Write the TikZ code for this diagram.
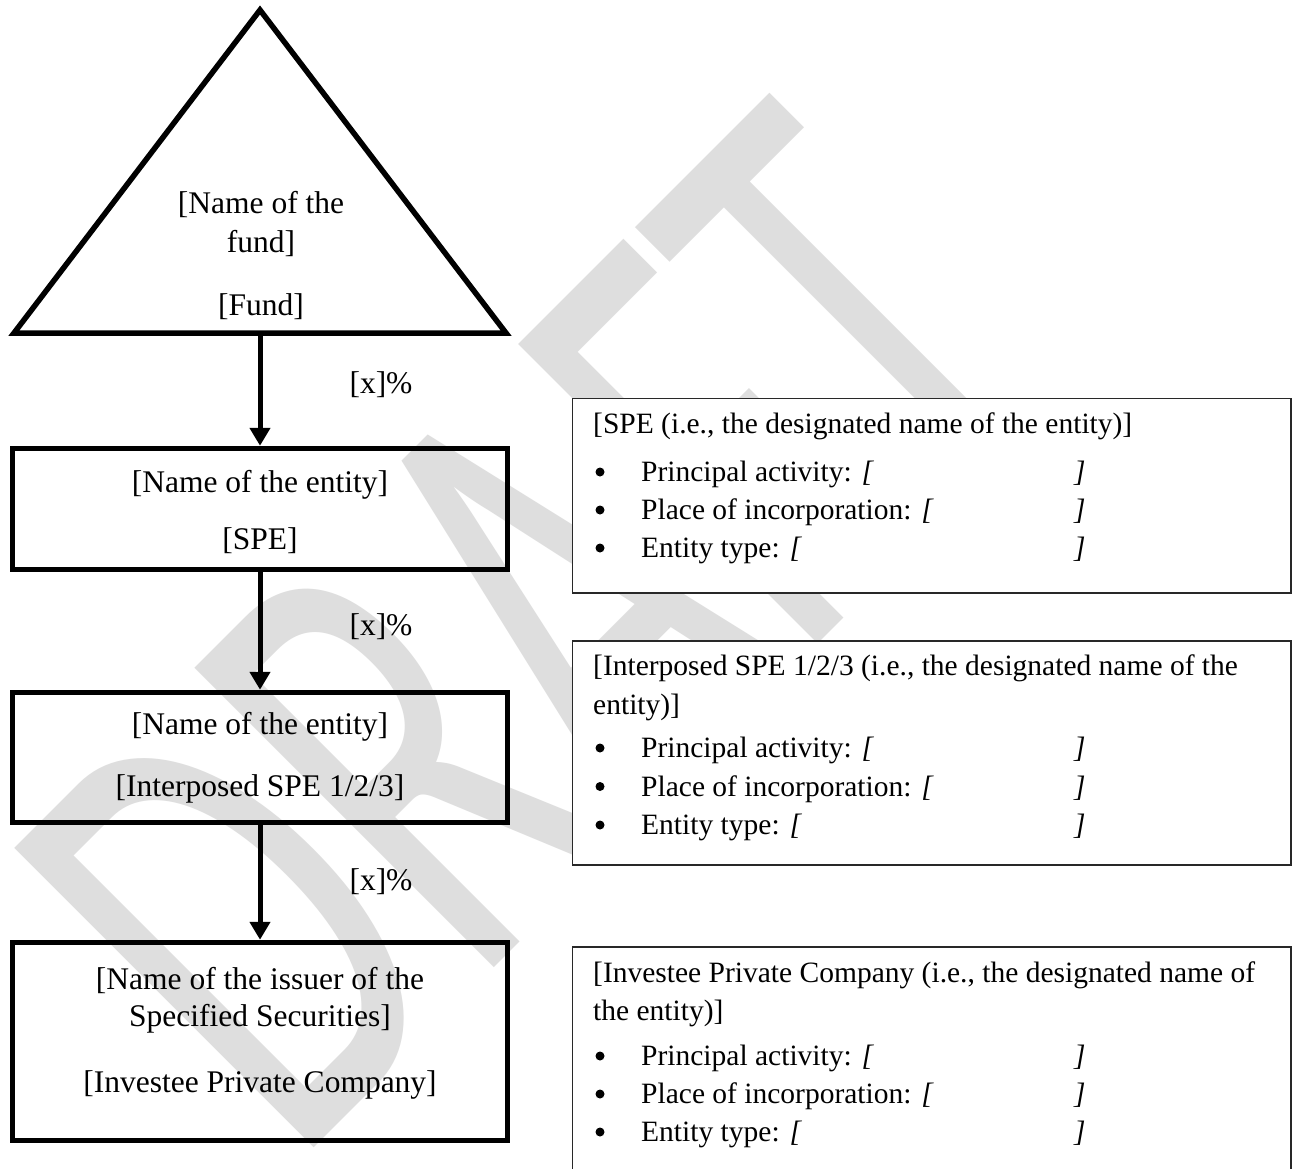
\documentclass[tikz,border=0pt]{standalone}
\usepackage{fontspec}
\setmainfont{Liberation Serif}
\newfontfamily\wmfont{Carlito}
\usetikzlibrary{arrows.meta}
\definecolor{wmgray}{RGB}{222,222,222}
\definecolor{thinline}{RGB}{40,40,40}
\newcommand{\myrow}[3]{%
  \node[bul] (#3b) at (600,#1) {};
  \node[rtext] (#3t) at (641,#1+9.5) {#2 \textit{[}};
  \node[rtext] (#3e) at (1074,#1+9.5) {\textit{]}};
}
\begin{document}
\begin{tikzpicture}[x=1pt,y=-1pt,
  lbox/.style={draw, line width=5.5pt, rectangle, minimum width=495pt, inner sep=0pt},
  ltext/.style={font=\fontsize{31.5}{38}\selectfont, anchor=base, inner sep=0pt},
  rtext/.style={font=\fontsize{29.5}{36}\selectfont, anchor=base west, inner sep=0pt},
  rbox/.style={draw=thinline, fill=white, line width=1.3pt, rectangle, minimum width=718.5pt, inner sep=0pt},
  bul/.style={circle, fill=black, inner sep=0pt, minimum size=9pt},
  arr/.style={line width=5pt, -{Triangle[width=20pt,length=18pt]}},
  wmtext/.style={text=wmgray, font=\wmfont\fontsize{410}{410}\selectfont, anchor=base west, inner sep=0pt, rotate=45, yscale=1.61}
]
\useasboundingbox (0,0) rectangle (1296,1168);
\fill[white] (0,0) rectangle (1296,1168);

% watermark
\begin{scope}[shift={(294.7,1167.3)}]
  \node[wmtext] (wm) at (0,0) {DRAFT};
\end{scope}

% fund triangle
\coordinate (apex) at (260,10);
\coordinate (bl) at (14,333);
\coordinate (br) at (506,333);
\draw[line width=5.5pt, line join=miter] (apex) -- (bl) -- (br) -- cycle;
\coordinate (fundbase) at (260,335.5);
\node[ltext] (fund1) at (261,213) {[Name of the};
\node[ltext] (fund2) at (261,252) {fund]};
\node[ltext] (fund3) at (261,315) {[Fund]};

% left boxes
\node[lbox, minimum height=121pt] (spe) at (260,509) {};
\node[ltext] (spe1) at (260,492) {[Name of the entity]};
\node[ltext] (spe2) at (260,549) {[SPE]};

\node[lbox, minimum height=130pt] (ispe) at (260,757.5) {};
\node[ltext] (ispe1) at (260,734) {[Name of the entity]};
\node[ltext] (ispe2) at (260,796) {[Interposed SPE 1/2/3]};

\node[lbox, minimum height=198pt] (ipc) at (260,1041.5) {};
\node[ltext] (ipc1) at (260,989) {[Name of the issuer of the};
\node[ltext] (ipc2) at (260,1026) {Specified Securities]};
\node[ltext] (ipc3) at (260,1092) {[Investee Private Company]};

% arrows
\draw[arr] (fundbase) -- (spe.north);
\draw[arr] (spe.south) -- (ispe.north);
\draw[arr] (ispe.south) -- (ipc.north);
\node[ltext] (pct1) at (381,393.5) {[x]\%};
\node[ltext] (pct2) at (381,635) {[x]\%};
\node[ltext] (pct3) at (381,890) {[x]\%};

% right boxes
\node[rbox, minimum height=194.5pt] (rA) at (931.75,495.75) {};
\node[rtext] (rAt) at (593,433.5) {[SPE (i.e., the designated name of the entity)]};
\myrow{472}{Principal activity:}{A1}
\myrow{510}{Place of incorporation:}{A2}
\myrow{548}{Entity type:}{A3}

\node[rbox, minimum height=224pt] (rB) at (931.75,753) {};
\node[rtext] (rBt1) at (593,675.5) {[Interposed SPE 1/2/3 (i.e., the designated name of the};
\node[rtext] (rBt2) at (593,714.5) {entity)]};
\myrow{748}{Principal activity:}{B1}
\myrow{786.5}{Place of incorporation:}{B2}
\myrow{825}{Entity type:}{B3}

\node[rbox, minimum height=233pt] (rC) at (931.75,1063.5) {};
\node[rtext] (rCt1) at (593,982.5) {[Investee Private Company (i.e., the designated name of};
\node[rtext] (rCt2) at (593,1020.5) {the entity)]};
\myrow{1056}{Principal activity:}{C1}
\myrow{1094}{Place of incorporation:}{C2}
\myrow{1132}{Entity type:}{C3}
\end{tikzpicture}
\end{document}
